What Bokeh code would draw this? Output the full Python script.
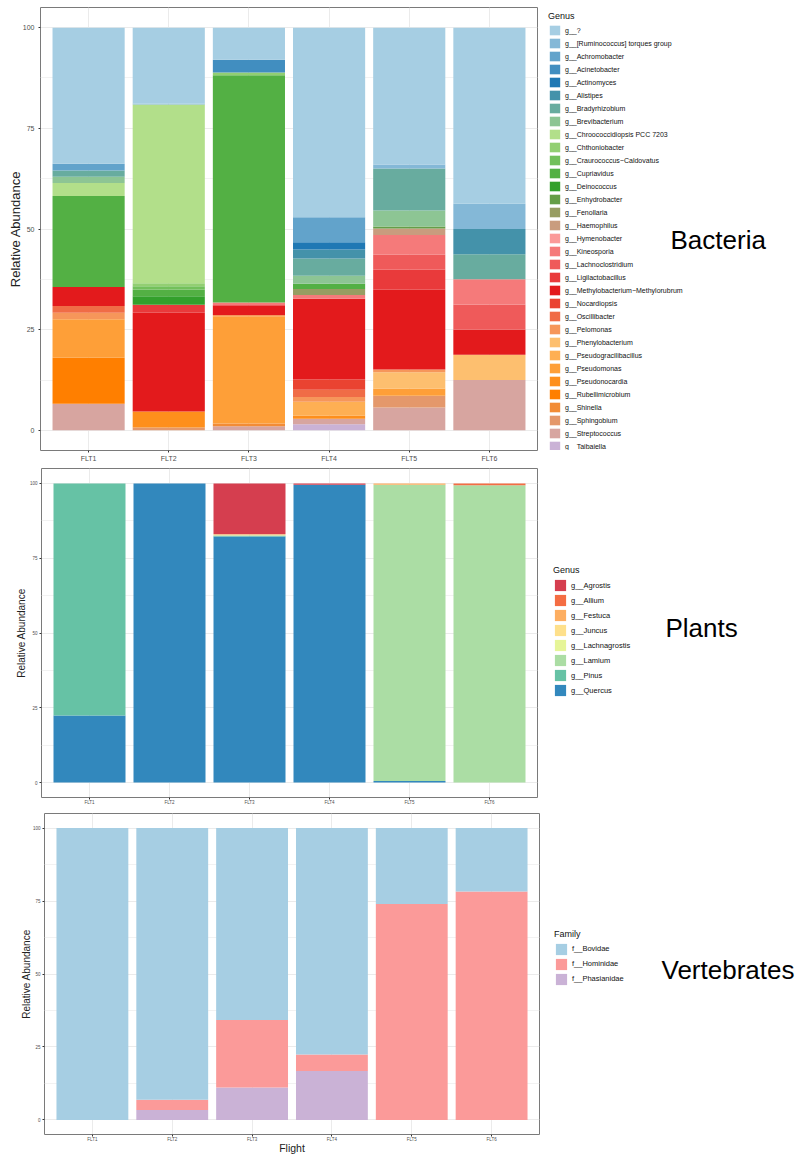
from bokeh.plotting import figure
from bokeh.models import FactorRange, Range1d, FixedTicker, Legend, LegendItem, Label, ColumnDataSource
from bokeh.layouts import column, row
from bokeh.embed import file_html
from bokeh.resources import INLINE

FONT = "Liberation Sans"

flights = ["FLT1", "FLT2", "FLT3", "FLT4", "FLT5", "FLT6"]
y_ticks = [0, 25, 50, 75, 100]
y_minor = [12.5, 37.5, 62.5, 87.5]

# ---------------- Bacteria ----------------
bact_genera = [
    "g__?", "g__[Ruminococcus] torques group", "g__Achromobacter", "g__Acinetobacter",
    "g__Actinomyces", "g__Alistipes", "g__Bradyrhizobium", "g__Brevibacterium",
    "g__Chroococcidiopsis PCC 7203", "g__Chthoniobacter", "g__Craurococcus\u2212Caldovatus",
    "g__Cupriavidus", "g__Deinococcus", "g__Enhydrobacter", "g__Fenollaria", "g__Haemophilus",
    "g__Hymenobacter", "g__Kineosporia", "g__Lachnoclostridium", "g__Ligilactobacillus",
    "g__Methylobacterium\u2212Methylorubrum", "g__Nocardiopsis", "g__Oscillibacter",
    "g__Pelomonas", "g__Phenylobacterium", "g__Pseudogracilibacillus", "g__Pseudomonas",
    "g__Pseudonocardia", "g__Rubellimicrobium", "g__Shinella", "g__Sphingobium",
    "g__Streptococcus", "g__Taibaiella",
]
bact_colors = [
    "#A6CEE3", "#84B8D7", "#62A3CB", "#418EC0", "#1F78B4", "#4492AA", "#68AC9F", "#8DC594",
    "#B2DF8A", "#92CF72", "#72C05B", "#53B044", "#33A02C", "#659E47", "#979D62", "#C99C7E",
    "#FB9A99", "#F57A7A", "#EF5A5A", "#E93A3B", "#E31A1C", "#EA4331", "#F06C46", "#F6965A",
    "#FDBF6F", "#FEAF53", "#FE9F38", "#FE8F1C", "#FF7F00", "#F28C36", "#E4986B", "#D7A5A0",
    "#CAB2D6",
]
#            ?     Rum  Achr Acin Acti Alis Brad Brev Chro Chth Crau Cupr Dein Enhy Feno Haem Hyme Kine Lach Ligi Meth Noca Osci Pelo Phen Psgr Psmo Psnc Rube Shin Sphi Stre Taib
bact_FLT1 = [33.8, 0,   1.7, 0,   0,   0,   1.5, 1.6, 3.2, 0,   0,   22.6, 0,  0,   0,   0,   0,   0,   0,   0,   4.7, 0,   1.7, 1.6, 0,   0,   9.6, 0,   11.4, 0,  0,   6.6, 0]
bact_FLT2 = [18.9, 0.2, 0,   0,   0,   0,   0,   0,   44.4, 0.7, 0.8, 1.7, 2.1, 0,  0,   0,   0,   0,   0,   2.0, 24.5, 0,  0,   0,   0,   0,   0,   4.0, 0,   0,   0.7, 0,   0]
bact_FLT3 = [8.0,  0,   0,   3.15, 0,  0,   0,   0,   0,   0.7, 0,   56.4, 0,  0,   0,   0,   0,   0.7, 0,   0,   2.4, 0,   0,   0.3, 0,   0,   26.65, 0,  0,   0.7, 0,   1.0, 0]
bact_FLT4 = [47.1, 0,   6.2, 0,   1.8, 2.2, 4.3, 2.0, 0,   0,   0,   1.3, 0,   0,   1.5, 0,   0,   0.9, 0,   0,   20.1, 2.5, 1.8, 1.2, 0,   3.4, 0,   0.8, 0,   0,   0,   1.4, 1.5]
bact_FLT5 = [34.0, 1.0, 0,   0,   0,   0,   10.4, 4.0, 0,  0,   0,   0,   0,   0.5, 0,   1.6, 0,   4.9, 3.7, 5.0, 19.8, 0,  0,   0.7, 4.0, 0,   1.8, 0,   0,   0,   2.9, 5.7, 0]
bact_FLT6 = [43.75, 6.25, 0, 0,   0,   6.25, 6.25, 0,  0,   0,   0,   0,   0,   0,   0,   0,   0,   6.25, 6.25, 0,  6.25, 0,  0,   0,   6.25, 0,  0,   0,   0,   0,   0,   12.5, 0]

# ---------------- Plants ----------------
plant_genera = ["g__Agrostis", "g__Allium", "g__Festuca", "g__Juncus",
                "g__Lachnagrostis", "g__Lamium", "g__Pinus", "g__Quercus"]
plant_colors = ["#D53E4F", "#F46D43", "#FDAE61", "#FEE08B", "#E6F598", "#ABDDA4", "#66C2A5", "#3288BD"]
#              Agro  Alli Fest Junc Lach Lami  Pinu  Quer
plant_FLT1 = [0,    0,   0,   0,   0,   0,    77.6, 22.4]
plant_FLT2 = [0,    0,   0,   0,   0,   0,    0,    100.0]
plant_FLT3 = [17.0, 0,   0,   0.4, 0,   0,    0.3,  82.3]
plant_FLT4 = [0.4,  0,   0,   0,   0,   0,    0,    99.6]
plant_FLT5 = [0,    0,   0.4, 0,   0,   99.1, 0,    0.5]
plant_FLT6 = [0,    0.6, 0,   0,   0,   99.4, 0,    0]

# ---------------- Vertebrates ----------------
vert_families = ["f__Bovidae", "f__Hominidae", "f__Phasianidae"]
vert_colors = ["#A6CEE3", "#FB9A99", "#CAB2D6"]
vert_bovidae = [100.0, 93.1, 65.8, 77.6, 26.0, 21.7]
vert_hominidae = [0, 3.5, 23.1, 5.6, 74.0, 78.3]
vert_phasianidae = [0, 3.4, 11.1, 16.8, 0, 0]

W = 799


def make_panel(names, colors, per_flight, height, b_left, frame_w, b_top, b_bottom,
               tick_fs, tick_standoff, ylab_fs, ylab_standoff, legend_title, leg_fs, title_fs,
               key_w, key_h, leg_loc, big_text, big_pos, xlabel=None):
    keys = [f"s{i}" for i in range(len(names))]
    data = {"flight": flights}
    for i, k in enumerate(keys):
        data[k] = [vals[i] for vals in per_flight]
    src = ColumnDataSource(data)

    pw = b_left + frame_w + 2
    p = figure(x_range=FactorRange(factors=flights, range_padding=0.1, range_padding_units="absolute"),
               y_range=Range1d(-5, 105), width=pw, height=height,
               min_border_left=b_left, min_border_right=2,
               min_border_top=b_top, min_border_bottom=b_bottom,
               toolbar_location=None, output_backend="svg")
    p.vbar_stack(keys[::-1], x="flight", width=0.9, color=colors[::-1],
                 line_color=None, source=src)

    p.background_fill_color = "white"
    p.border_fill_color = "white"
    p.outline_line_color = "#7a7a7a"
    p.outline_line_width = 1

    p.yaxis.ticker = FixedTicker(ticks=y_ticks, minor_ticks=y_minor)
    p.ygrid.grid_line_color = "#EBEBEB"
    p.ygrid.minor_grid_line_color = "#F2F2F2"
    p.xgrid.grid_line_color = "#EBEBEB"
    for ax in (p.xaxis, p.yaxis):
        ax.axis_line_color = None
        ax.minor_tick_line_color = None
        ax.major_tick_line_color = "#333333"
        ax.major_tick_out = 2
        ax.major_tick_in = 0
        ax.major_label_text_font = FONT
        ax.major_label_text_font_size = tick_fs
        ax.major_label_text_color = "#4D4D4D"
        ax.major_label_standoff = tick_standoff
    p.yaxis.axis_label = "Relative Abundance"
    p.yaxis.axis_label_text_font = FONT
    p.yaxis.axis_label_text_font_size = ylab_fs
    p.yaxis.axis_label_text_font_style = "normal"
    p.yaxis.axis_label_text_color = "#222222"
    p.yaxis.axis_label_standoff = ylab_standoff
    if xlabel:
        p.xaxis.axis_label = xlabel
        p.xaxis.axis_label_text_font = FONT
        p.xaxis.axis_label_text_font_size = "10.5px"
        p.xaxis.axis_label_text_font_style = "normal"
        p.xaxis.axis_label_text_color = "#222222"
        p.xaxis.axis_label_standoff = -3

    # side area: legend + panel name (legend swatches come from hidden copies of the stacks)
    qw = W - pw
    q = figure(width=qw, height=height,
               x_range=FactorRange(factors=flights), y_range=Range1d(1000, 1100),
               x_axis_type=None, y_axis_type=None, min_border=0,
               toolbar_location=None, output_backend="svg")
    q.outline_line_color = None
    q.grid.visible = False
    q.background_fill_color = "white"
    q.border_fill_color = "white"
    qr = q.vbar_stack(keys, x="flight", width=0.9, color=colors, line_color=None, source=src)
    for r in qr:
        r.visible = False
    items = [LegendItem(label=n, renderers=[r]) for n, r in zip(names, qr)]
    leg = Legend(items=items, location=leg_loc, title=legend_title,
                 title_text_font=FONT, title_text_font_size=title_fs, title_text_font_style="normal",
                 title_text_color="#111111", title_standoff=3,
                 label_text_font=FONT, label_text_font_size=leg_fs, label_text_color="#111111",
                 glyph_width=key_w, glyph_height=key_h, label_height=key_h,
                 spacing=1, padding=2, margin=0, label_standoff=4,
                 border_line_color=None, background_fill_alpha=0,
                 inactive_fill_alpha=0)
    q.add_layout(leg)
    q.add_layout(Label(x=big_pos[0], y=big_pos[1], x_units="screen", y_units="screen",
                       text=big_text, text_font=FONT,
                       text_font_size="26px", text_baseline="middle", text_align="left",
                       text_color="#000000"))
    return row(p, q, spacing=0)


r1 = make_panel(bact_genera, bact_colors,
                [bact_FLT1, bact_FLT2, bact_FLT3, bact_FLT4, bact_FLT5, bact_FLT6],
                height=464, b_left=40, frame_w=497, b_top=7, b_bottom=13,
                tick_fs="7px", tick_standoff=2, ylab_fs="13px", ylab_standoff=-3,
                legend_title="Genus", leg_fs="7px", title_fs="9px",
                key_w=13, key_h=12, leg_loc=(9, -2),
                big_text="Bacteria", big_pos=(131, 211))

r2 = make_panel(plant_genera, plant_colors,
                [plant_FLT1, plant_FLT2, plant_FLT3, plant_FLT4, plant_FLT5, plant_FLT6],
                height=344, b_left=41, frame_w=496, b_top=4, b_bottom=11,
                tick_fs="4.5px", tick_standoff=0, ylab_fs="10px", ylab_standoff=0,
                legend_title="Genus", leg_fs="7.5px", title_fs="9px",
                key_w=14, key_h=14, leg_loc=(14, 99.7),
                big_text="Plants", big_pos=(126, 170))

r3 = make_panel(vert_families, vert_colors,
                [list(v) for v in zip(vert_bovidae, vert_hominidae, vert_phasianidae)],
                height=348, b_left=44, frame_w=495, b_top=5, b_bottom=18,
                tick_fs="4.5px", tick_standoff=0, ylab_fs="10px", ylab_standoff=-2,
                legend_title="Family", leg_fs="7.5px", title_fs="9px",
                key_w=14, key_h=14, leg_loc=(13, 148.5),
                big_text="Vertebrates", big_pos=(120, 165), xlabel="Flight")

layout = column(r1, r2, r3, spacing=0)
open("out.html", "w").write(file_html(layout, INLINE))
